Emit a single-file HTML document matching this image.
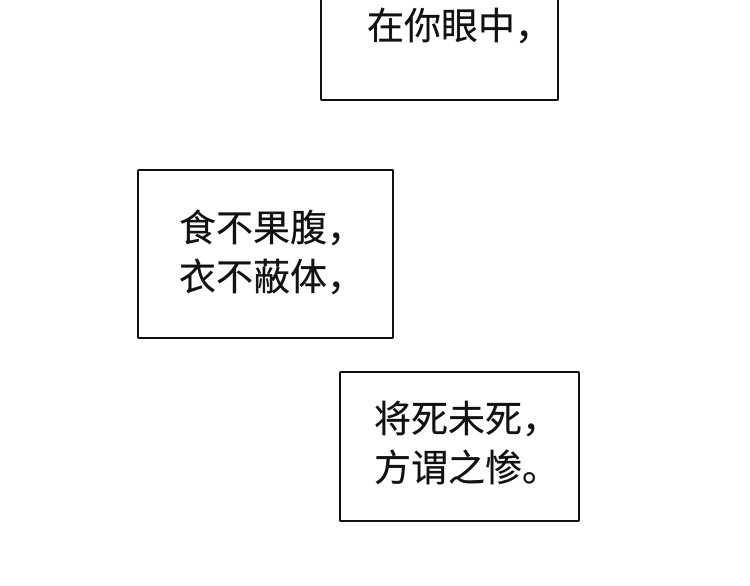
<!DOCTYPE html>
<html><head><meta charset="utf-8"><style>
body{margin:0;width:750px;height:586px;background:#fff;position:relative;overflow:hidden;font-family:"Liberation Sans","Noto Sans CJK SC",sans-serif;color:#111}
.b{position:absolute;border:2px solid #111;box-sizing:border-box;background:#fff;border-radius:2px}
.t{position:absolute;font-size:37px;line-height:49px;white-space:nowrap;-webkit-text-stroke:0.3px #111}
</style></head><body>
<div class="b" style="left:320px;top:-10px;width:239px;height:111px"></div>
<div class="t" style="left:367px;top:2px">在你眼中，</div>
<div class="b" style="left:137px;top:169px;width:257px;height:170px"></div>
<div class="t" style="left:179px;top:204px">食不果腹，<br>衣不蔽体，</div>
<div class="b" style="left:339px;top:371px;width:241px;height:151px"></div>
<div class="t" style="left:374px;top:395px">将死未死，<br>方谓之惨。</div>
</body></html>
